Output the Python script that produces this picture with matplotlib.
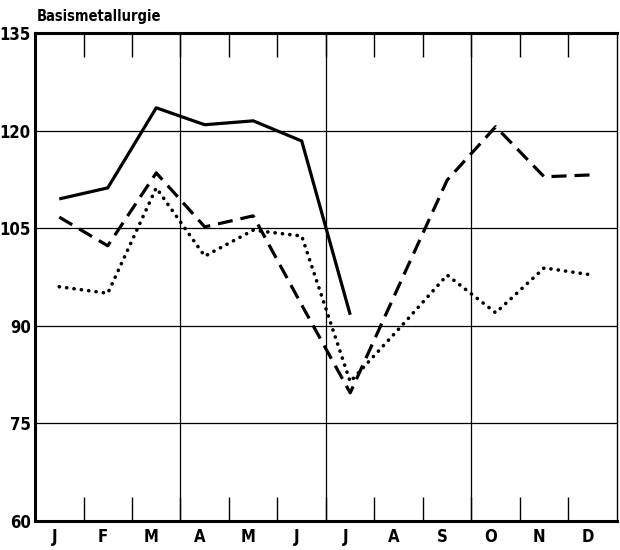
import matplotlib.pyplot as plt
import numpy as np

months = ["J", "F", "M", "A", "M", "J", "J", "A", "S", "O", "N", "D"]

# three series (index values)
solid = [109.5, 111.2, 123.5, 120.9, 121.5, 118.4, 91.7]
dashed = [106.7, 102.3, 113.5, 105.2, 106.9, 93.2, 79.7, 96.1, 112.4, 120.6, 112.9, 113.2]
dotted = [96.0, 95.0, 111.2, 100.7, 104.7, 103.8, 81.4, 89.5, 97.8, 92.0, 98.9, 97.8]

yticks = [60, 75, 90, 105, 120, 135]

plt.rcParams['font.family'] = ['DejaVu Sans']
plt.rcParams['font.stretch'] = 'condensed'

fig = plt.figure(figsize=(6.2, 5.5), dpi=100)
ax = fig.add_axes([0.0565, 0.0527, 0.9385, 0.8873])

x = np.arange(12) + 0.5

for yv in yticks[1:-1]:
    ax.axhline(yv, color="black", lw=0.9)
for xv in [3, 6, 9]:
    ax.axvline(xv, color="black", lw=0.9)

ax.plot(x[:len(solid)], solid, color="black", lw=2.3, solid_capstyle="butt")
ax.plot(x, dashed, color="black", lw=2.3, dashes=(4.7, 2.5))
ax.plot(x, dotted, color="black", lw=2.6, dashes=(0.05, 2.0), dash_capstyle="round")

ax.set_xlim(0, 12)
ax.set_ylim(60, 135)
ax.set_yticks(yticks)
ax.set_yticklabels([str(v) for v in yticks], fontsize=12, fontweight="bold")
ax.set_xticks(x - 0.1)
ax.set_xticklabels(months, fontsize=12, fontweight="bold")
ax.tick_params(axis="x", which="major", length=0, pad=5)
ax.tick_params(axis="y", length=0, pad=3)

ax.set_xticks(np.arange(1, 12), minor=True)
ax.tick_params(axis="x", which="minor", direction="in", length=17,
               width=1.0, top=True, bottom=True)

for side in ["left", "bottom", "top"]:
    ax.spines[side].set_linewidth(2.2)
ax.spines["right"].set_linewidth(1.0)

fig.text(0.06, 0.957, "Basismetallurgie", fontsize=10.5, fontweight="bold",
         ha="left", va="bottom")

fig.savefig("out.png", dpi=100)
